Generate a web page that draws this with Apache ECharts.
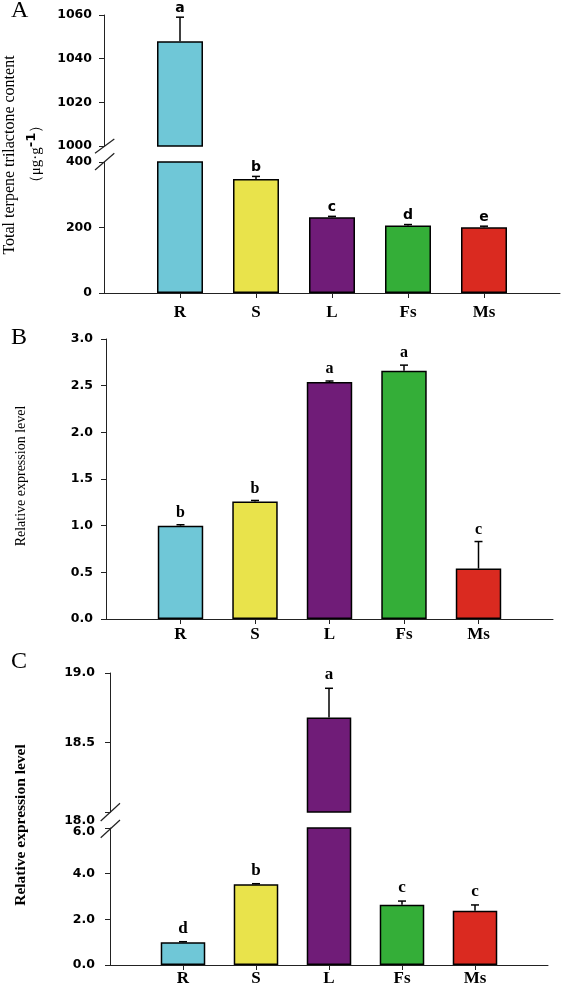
<!DOCTYPE html>
<html><head><meta charset="utf-8">
<script src="https://cdn.jsdelivr.net/npm/echarts@6/dist/echarts.min.js"></script>
<style>html,body{margin:0;padding:0;background:#fff}#c{width:563px;height:987px}</style>
</head><body><div id="c"></div>
<script>
// ---------- data ----------
const categories = ['R', 'S', 'L', 'Fs', 'Ms'];
const barColors = ['#6FC7D7', '#E9E34B', '#701C78', '#34AE38', '#DA2A20'];

const contentA = [1048, 348, 231, 206, 201];
const errA = [11, 8, 3, 3, 3];
const lettersA = ['a', 'b', 'c', 'd', 'e'];
const ticksAUpper = [1000, 1020, 1040, 1060];
const ticksALower = [0, 200, 400];

const exprB = [1.00, 1.26, 2.54, 2.66, 0.54];
const errB = [0.01, 0.01, 0.01, 0.06, 0.29];
const lettersB = ['b', 'b', 'a', 'a', 'c'];
const ticksB = [0, 0.5, 1.0, 1.5, 2.0, 2.5, 3.0];

const exprC = [1.00, 3.54, 18.68, 2.64, 2.38];
const errC = [0.02, 0.02, 0.21, 0.16, 0.25];
const lettersC = ['d', 'b', 'a', 'c', 'c'];
const ticksCUpper = [18.0, 18.5, 19.0];
const ticksCLower = [0, 2, 4, 6];

// ---------- styling ----------
const SERIF = '"Liberation Serif","Times New Roman",serif';
const SANS = '"DejaVu Sans","Liberation Sans",sans-serif';
const AXIS_COLOR = '#222';

const grids = [], xAxes = [], yAxes = [], series = [];

function addPanel(cfg) {
  const gi = grids.length;
  grids.push(cfg.grid);
  const ticks = cfg.ticks;
  const lo = ticks[0], hi = ticks[ticks.length - 1];
  xAxes.push({
    type: 'category', gridIndex: gi, data: [''].concat(categories, ['']), boundaryGap: false,
    axisLine: { show: cfg.showX, lineStyle: { color: AXIS_COLOR, width: 1 } },
    axisTick: { show: cfg.showX, length: 5, interval: (i, v) => v !== '', lineStyle: { color: AXIS_COLOR, width: 1 } },
    axisLabel: { show: cfg.showX, interval: 0, margin: cfg.xMargin || 8, fontFamily: SERIF, fontWeight: 'bold', fontSize: 17, color: '#000' },
    splitLine: { show: false }
  });
  yAxes.push({
    type: 'value', gridIndex: gi, min: lo, max: hi, interval: ticks[1] - ticks[0],
    axisLine: { show: true, lineStyle: { color: AXIS_COLOR, width: 1 } },
    axisTick: { show: true, length: 5, lineStyle: { color: AXIS_COLOR, width: 1 } },
    splitLine: { show: false },
    axisLabel: Object.assign({
      margin: cfg.yMargin, fontFamily: SANS, fontWeight: 'bold', fontSize: 12.5, color: '#000',
      formatter: v => v.toFixed(cfg.decimals)
    }, cfg.labelExtra || {})
  });
  const inGrid = (v) => cfg.part === 'upper' ? v > lo : v <= hi;
  series.push({
    type: 'bar', xAxisIndex: gi, yAxisIndex: gi, barWidth: cfg.barWidth, clip: true, silent: true,
    itemStyle: { borderColor: '#000', borderWidth: 1.5 },
    data: ['-'].concat(cfg.values.map((v, i) =>
      (cfg.part === 'upper' && !(v > lo)) ? '-' : { value: v, itemStyle: { color: barColors[i] } }), ['-'])
  });
  const items = [];
  cfg.values.forEach((v, i) => { if (inGrid(v)) items.push([i + 1, v, cfg.errs[i], i]); });
  series.push({
    type: 'custom', xAxisIndex: gi, yAxisIndex: gi, z: 5, silent: true, data: items,
    encode: { x: 0, y: 1 },
    renderItem: (params, api) => {
      const x = api.value(0), v = api.value(1), e = api.value(2), idx = api.value(3);
      const b = api.coord([x, v]);
      const t = api.coord([x, v + e]);
      const style = { stroke: '#000', lineWidth: 1.5 };
      return {
        type: 'group', children: [
          { type: 'line', shape: { x1: b[0], y1: b[1], x2: t[0], y2: t[1] }, style },
          { type: 'line', shape: { x1: t[0] - 4, y1: t[1], x2: t[0] + 4, y2: t[1] }, style },
          { type: 'text', x: t[0], y: t[1] - cfg.letterGap,
            style: { text: cfg.letters[idx], textAlign: 'center', textVerticalAlign: 'bottom',
              font: cfg.letterFont, fill: '#000' } }
        ]
      };
    }
  });
}

// Panel A
addPanel({ grid: { left: 104, top: 15, width: 456, height: 131 }, part: 'upper', showX: false,
  ticks: ticksAUpper, decimals: 0, yMargin: 12, barWidth: '60.5%',
  values: contentA, errs: errA, letters: lettersA, letterGap: 2, letterFont: 'bold 14px ' + SANS });
addPanel({ grid: { left: 104, top: 162, width: 456, height: 131 }, part: 'lower', showX: true, xMargin: 11,
  ticks: ticksALower, decimals: 0, yMargin: 12, barWidth: '60.5%',
  values: contentA, errs: errA, letters: lettersA, letterGap: 2, letterFont: 'bold 14px ' + SANS });
// Panel B
addPanel({ grid: { left: 106, top: 339, width: 447, height: 280 }, part: 'lower', showX: true, xMargin: 7,
  ticks: ticksB, decimals: 1, yMargin: 13, barWidth: '61%',
  values: exprB, errs: errB, letters: lettersB, letterGap: 4, letterFont: 'bold 16px ' + SERIF });
// Panel C
addPanel({ grid: { left: 110, top: 673, width: 438, height: 139 }, part: 'upper', showX: false,
  ticks: ticksCUpper, decimals: 1, yMargin: 15, barWidth: '61%',
  labelExtra: {
    formatter: v => v === ticksCUpper[0] ? '{s|' + v.toFixed(1) + '}' : v.toFixed(1),
    rich: { s: { fontFamily: SANS, fontWeight: 'bold', fontSize: 12.5, color: '#000', padding: [18, 0, 0, 0] } }
  },
  values: exprC, errs: errC, letters: lettersC, letterGap: 5, letterFont: 'bold 17px ' + SERIF });
addPanel({ grid: { left: 110, top: 828, width: 438, height: 139 }, part: 'lower', showX: true, xMargin: 5,
  ticks: ticksCLower, decimals: 1, yMargin: 15, barWidth: '61%',
  labelExtra: {
    formatter: v => v === ticksCLower[ticksCLower.length - 1] ? '{s|' + v.toFixed(1) + '}' : v.toFixed(1),
    rich: { s: { fontFamily: SANS, fontWeight: 'bold', fontSize: 12.5, color: '#000', padding: [8, 0, 0, 0] } }
  },
  values: exprC, errs: errC, letters: lettersC, letterGap: 5, letterFont: 'bold 17px ' + SERIF });

// ---------- decorations ----------
const slash = (x1, y1, x2, y2) => ({ type: 'line', silent: true, shape: { x1, y1, x2, y2 },
  style: { stroke: AXIS_COLOR, lineWidth: 1.2 } });
const vtext = (x, y, text, font, extra) => ({ type: 'text', x, y, rotation: Math.PI / 2, silent: true,
  style: Object.assign({ text, font, fill: '#000', textAlign: 'center', textVerticalAlign: 'middle' }, extra || {}) });
const graphic = [
  { type: 'text', x: 11, y: 11, silent: true, style: { text: 'A', font: '24px ' + SERIF, fill: '#000', textVerticalAlign: 'middle' } },
  { type: 'text', x: 11, y: 338, silent: true, style: { text: 'B', font: '24px ' + SERIF, fill: '#000', textVerticalAlign: 'middle' } },
  { type: 'text', x: 11, y: 662, silent: true, style: { text: 'C', font: '24px ' + SERIF, fill: '#000', textVerticalAlign: 'middle' } },
  vtext(10, 155, 'Total terpene trilactone content', '16px ' + SERIF),
  vtext(36, 154, '（μg·g{sup|-1}）', '15px ' + SERIF, {
    rich: { sup: { fontFamily: SANS, fontWeight: 'bold', fontSize: 13, verticalAlign: 'top', padding: [0, 0, 8, 0] } } }),
  vtext(21, 476, 'Relative expression level', '14px ' + SERIF),
  vtext(21, 825, 'Relative expression level', 'bold 15.5px ' + SERIF),
  slash(95, 153.3, 114.3, 139), slash(95, 170, 114.3, 153.3),
  slash(100.7, 821, 120, 803.3), slash(100.7, 837.7, 120, 820)
];

const chart = echarts.init(document.getElementById('c'), null, { renderer: 'canvas' });
chart.setOption({
  animation: false,
  backgroundColor: '#fff',
  grid: grids, xAxis: xAxes, yAxis: yAxes, series, graphic
});
</script></body></html>
